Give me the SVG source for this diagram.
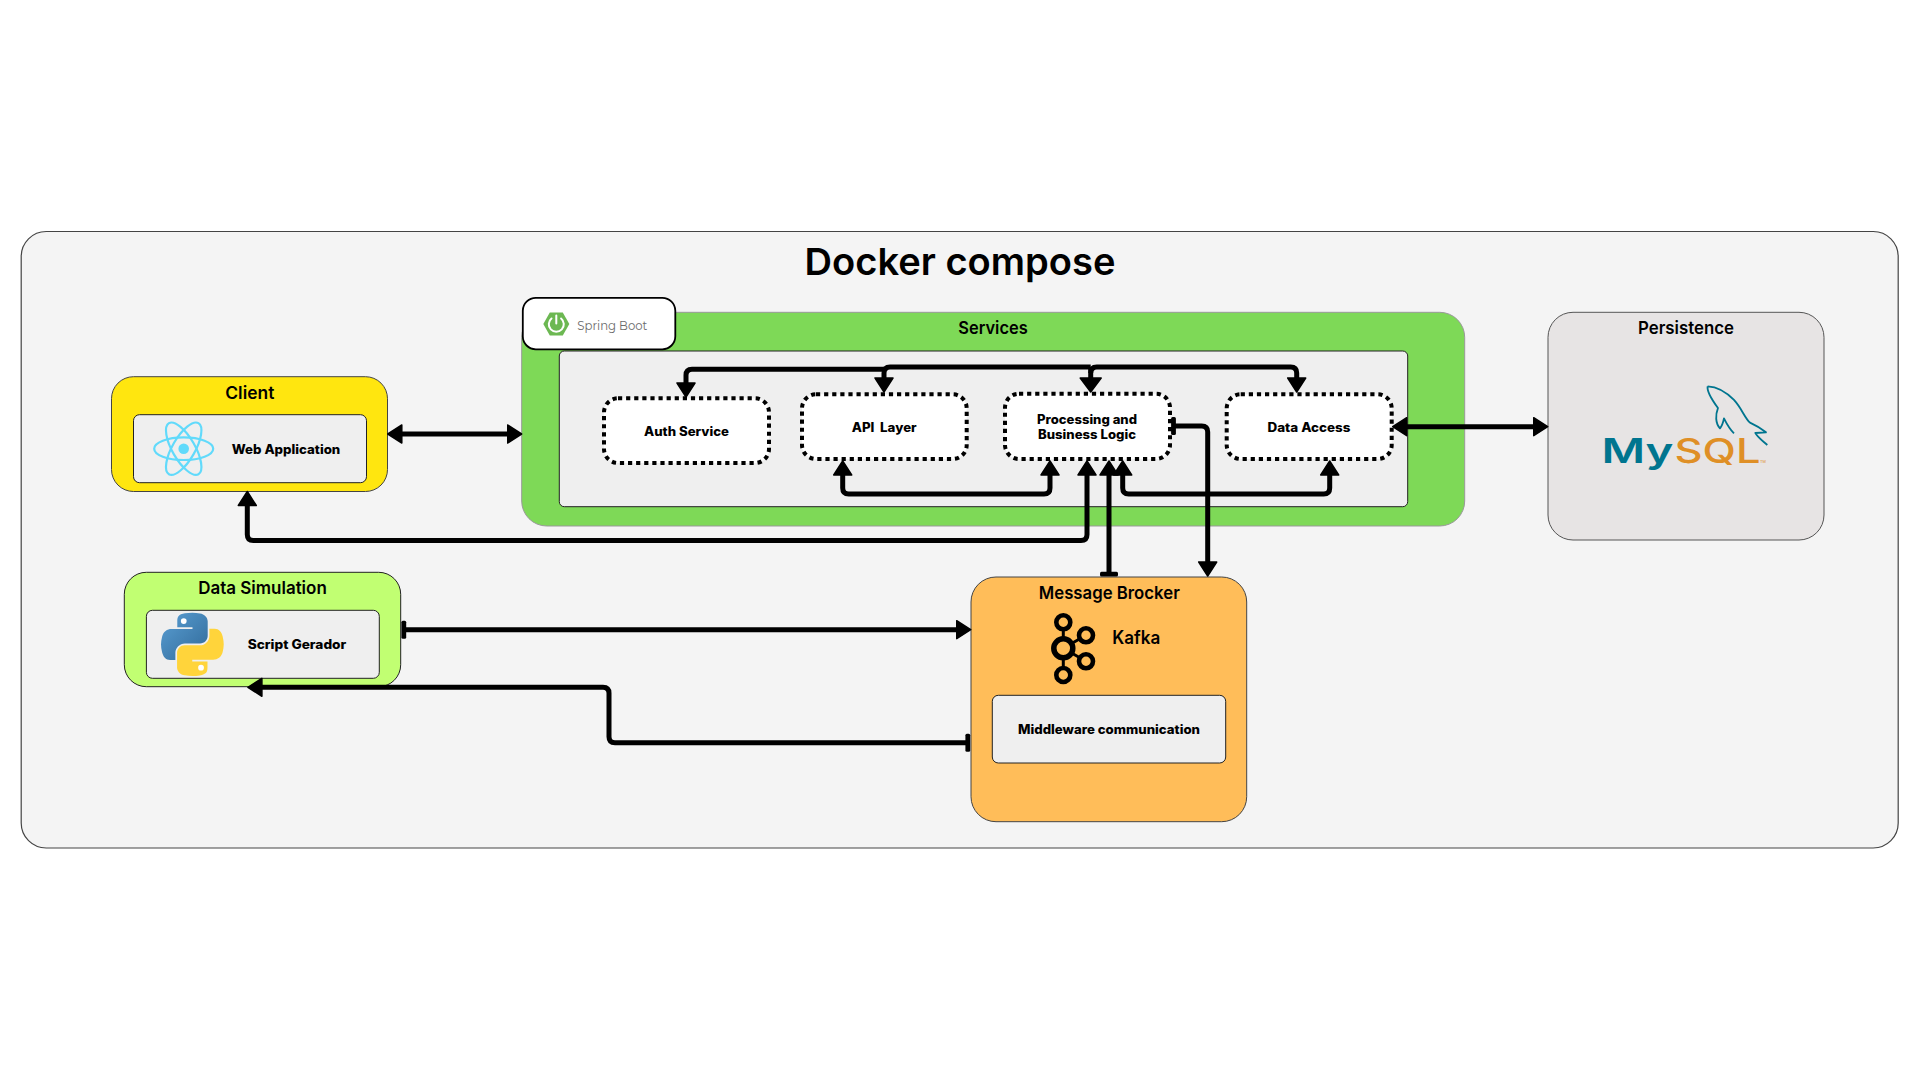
<svg xmlns="http://www.w3.org/2000/svg" width="1920" height="1080" viewBox="0 0 1920 1080">
<style>
.title{font-family:"Inter","Liberation Sans",sans-serif;font-weight:600;font-size:17.5px;fill:#000;text-anchor:middle}
.label{font-family:"Inter","Liberation Sans",sans-serif;font-weight:800;font-size:12.5px;fill:#000;text-anchor:middle;white-space:pre}
.inner{fill:#efefef;stroke:#222;stroke-width:1}
.dot{fill:#fff;stroke:#000;stroke-width:4;stroke-dasharray:4.2 3.9}
.conn{fill:none;stroke:#000;stroke-width:5;stroke-linejoin:round}
.arr{marker-end:url(#ah)}
.arrs{marker-start:url(#ah)}
.tee{marker-start:url(#tb)}
</style>
<defs>
<marker id="ah" markerUnits="userSpaceOnUse" viewBox="-1 -11 17 22" markerWidth="17" markerHeight="22" refX="6" refY="0" orient="auto-start-reverse"><polygon points="0,-9 14,0 0,9" fill="#000" stroke="#000" stroke-width="1.5" stroke-linejoin="round"/></marker>
<marker id="ahl" markerUnits="userSpaceOnUse" viewBox="-1 -12 17 24" markerWidth="17" markerHeight="24" refX="6" refY="0" orient="auto-start-reverse"><polygon points="0,-10.5 14,0 0,10.5" fill="#000" stroke="#000" stroke-width="1.5" stroke-linejoin="round"/></marker>
<marker id="tb" markerUnits="userSpaceOnUse" viewBox="-3 -10 6 20" markerWidth="6" markerHeight="20" refX="0" refY="0" orient="auto"><rect x="-2.2" y="-9" width="4.8" height="18" rx="1.5" fill="#000"/></marker>
<linearGradient id="pb" x1="0" y1="0" x2="1" y2="1"><stop offset="0" stop-color="#5A9FD4"/><stop offset="1" stop-color="#306998"/></linearGradient>
<path id="pysnake" d="M54.9 0c-4.6 0-9 .4-12.8 1.1C30.8 3.1 28.8 7.2 28.8 14.9v10.2h26.4v3.4H18.9c-7.7 0-14.4 4.6-16.5 13.4-2.4 10-2.5 16.3 0 26.8 1.9 7.8 6.3 13.4 14 13.4h9.1V69.7c0-8.7 7.5-16.3 16.5-16.3h26.4c7.3 0 13.2-6.1 13.2-13.4V14.9c0-7.1-6-12.5-13.2-13.7C64 .4 59.4 0 54.9 0z"/>
</defs>
<rect width="1920" height="1080" fill="#fff"/>
<g id="docker-compose">
<rect x="21.2" y="231.5" width="1877" height="616.5" rx="25" fill="#f4f4f4" stroke="#444" stroke-width="1.2"/>
<text x="960" y="275" font-family="Inter,'Liberation Sans',sans-serif" font-weight="600" font-size="37.5" text-anchor="middle" fill="#000" textLength="311" lengthAdjust="spacingAndGlyphs">Docker compose</text>
</g>
<g id="client">
<rect x="111.5" y="376.7" width="276" height="114.8" rx="22" fill="#FFE60F" stroke="#444" stroke-width="1"/>
<text class="title" x="249.8" y="399.3" textLength="49" lengthAdjust="spacingAndGlyphs">Client</text>
<rect class="inner" x="133.5" y="414.7" width="233" height="68" rx="6"/>
<g fill="none" stroke="#61DAFB" stroke-width="2.2"><ellipse cx="183.7" cy="448.7" rx="29.5" ry="11.3"/><ellipse cx="183.7" cy="448.7" rx="29.5" ry="11.3" transform="rotate(60 183.7 448.7)"/><ellipse cx="183.7" cy="448.7" rx="29.5" ry="11.3" transform="rotate(120 183.7 448.7)"/></g>
<circle cx="183.7" cy="448.7" r="5.3" fill="#61DAFB"/>
<text class="label" x="286" y="454" textLength="108.6" lengthAdjust="spacingAndGlyphs">Web Application</text>
</g>
<g id="services">
<rect x="521.7" y="312.3" width="943" height="213.7" rx="25" fill="#7ED957" stroke="#999" stroke-width="1"/>
<text class="title" x="993" y="334.3" textLength="69.4" lengthAdjust="spacingAndGlyphs">Services</text>
<rect x="559.3" y="351" width="848.4" height="155.7" rx="5" fill="#efefef" stroke="#222" stroke-width="1"/>
</g>
<g id="spring-boot">
<rect x="522.8" y="297.8" width="152.5" height="51.5" rx="13" fill="#fff" stroke="#000" stroke-width="1.8"/>
<polygon points="543.3,324 549.8,312.5 562.8,312.5 569.3,324 562.8,335.5 549.8,335.5" fill="#6CB852"/>
<path d="M551.5 318.5a7.5 7.5 0 1 0 9.6 0M556.3 315.5v8" fill="none" stroke="#fff" stroke-width="2" stroke-linecap="round"/>
<text x="577.3" y="330" font-family="Montserrat,'Noto Sans',sans-serif" font-size="13" fill="#6b6b6b" textLength="70" lengthAdjust="spacingAndGlyphs">Spring Boot</text>
</g>
<g id="auth-service">
<rect class="dot" x="604" y="398.3" width="165" height="64.7" rx="14"/>
<text class="label" x="686.5" y="436" textLength="85" lengthAdjust="spacingAndGlyphs">Auth Service</text>
</g>
<g id="api-layer">
<rect class="dot" x="802" y="394.3" width="164.7" height="64.7" rx="14"/>
<text class="label" x="884.2" y="432.3" textLength="65" lengthAdjust="spacingAndGlyphs">API  Layer</text>
</g>
<g id="processing">
<rect class="dot" x="1005" y="393.7" width="165" height="65.3" rx="14"/>
<text class="label" x="1087" y="424" textLength="100" lengthAdjust="spacingAndGlyphs">Processing and</text>
<text class="label" x="1087" y="439" textLength="98" lengthAdjust="spacingAndGlyphs">Business Logic</text>
</g>
<g id="data-access">
<rect class="dot" x="1226.7" y="394.3" width="165" height="64.7" rx="14"/>
<text class="label" x="1309" y="432" textLength="83" lengthAdjust="spacingAndGlyphs">Data Access</text>
</g>
<g id="persistence">
<rect x="1548" y="312.3" width="276" height="227.7" rx="25" fill="#E7E4E4" stroke="#555" stroke-width="1"/>
<text class="title" x="1686" y="334.3" textLength="96" lengthAdjust="spacingAndGlyphs">Persistence</text>
<g transform="translate(1480 280) scale(.3333)" fill="none" stroke="#00758F" stroke-width="5.5" stroke-linejoin="round">
<path d="M683 319C705 320 735 332 762 360C785 385 795 415 810 428C830 437 845 447 858 457L826 459C832 472 850 484 862 495M683 319C680 335 700 365 714 384C706 405 706 430 720 445C728 435 730 425 732 415C742 435 752 450 762 460"/>
</g>
<text y="462.7" font-family="Inter,'Liberation Sans',sans-serif" font-size="34.5"><tspan x="1601.5" fill="#00758F" font-weight="600" textLength="72" lengthAdjust="spacingAndGlyphs">My</tspan><tspan x="1674.5" fill="#DF8F26" font-weight="500" textLength="86" lengthAdjust="spacingAndGlyphs">SQL</tspan></text>
<text x="1760" y="462.5" font-family="'Liberation Sans',Arial,sans-serif" font-size="4" fill="#DF8F26">TM</text>
</g>
<g id="data-simulation">
<rect x="124.3" y="572.3" width="276.4" height="114.4" rx="22" fill="#C1FF72" stroke="#222" stroke-width="1"/>
<text class="title" x="262.5" y="594.3" textLength="128.6" lengthAdjust="spacingAndGlyphs">Data Simulation</text>
<rect class="inner" x="146.4" y="610.3" width="232.9" height="68" rx="6"/>
<g transform="translate(160.7 612.7) scale(.576)">
<use href="#pysnake" fill="url(#pb)"/>
<circle cx="40" cy="14.5" r="5" fill="#fff"/>
<use href="#pysnake" fill="#FFD43B" transform="rotate(180 55 55)"/>
<circle cx="70" cy="95.5" r="5" fill="#fff"/>
</g>
<text class="label" x="297" y="649" textLength="98.6" lengthAdjust="spacingAndGlyphs">Script Gerador</text>
</g>
<g id="message-broker">
<rect x="971" y="577" width="275.7" height="244.7" rx="25" fill="#FFBD59" stroke="#444" stroke-width="1"/>
<text class="title" x="1109.3" y="599" textLength="141" lengthAdjust="spacingAndGlyphs">Message Brocker</text>
<g fill="none" stroke="#000"><path d="M1063.3 629V676M1063.3 648.3L1086 635.3M1063.3 648.3L1086 661.3" stroke-width="3"/><g fill="#FFBD59" stroke-width="4.6"><circle cx="1063.3" cy="622.3" r="7"/><circle cx="1086" cy="635.3" r="7"/><circle cx="1086" cy="661.3" r="7"/><circle cx="1063.3" cy="675" r="7"/></g><circle cx="1063.3" cy="648.3" r="9.5" fill="#FFBD59" stroke-width="5.5"/></g>
<text x="1112.3" y="644" font-family="Inter,'Liberation Sans',sans-serif" font-weight="600" font-size="18" textLength="48" lengthAdjust="spacingAndGlyphs">Kafka</text>
<rect class="inner" x="992.3" y="695.3" width="233.4" height="67.7" rx="6"/>
<text class="label" x="1109" y="734" textLength="182" lengthAdjust="spacingAndGlyphs">Middleware communication</text>
</g>
<g id="connectors">
<path class="conn arr arrs" d="M395.8 434H513.6"/>
<path class="conn arr arrs" d="M247.3 499.5V534.5Q247.3 540.5 253.3 540.5H1081Q1087 540.5 1087 534.5V469"/>
<path class="conn arrs" d="M686 389V375.3Q686 369.3 692 369.3H884"/>
<path class="conn arr" d="M1090.7 367H890Q884 367 884 373V384"/>
<path class="conn" style="marker-end:url(#ahl)" d="M1090.7 367V384"/>
<path class="conn arr" d="M1090.7 373Q1090.7 367 1096.7 367H1290.7Q1296.7 367 1296.7 373V384"/>
<path class="conn arr arrs" d="M842.7 469V488Q842.7 494 848.7 494H1044Q1050 494 1050 488V469"/>
<path class="conn arr arrs" d="M1122.7 469V488Q1122.7 494 1128.7 494H1323.7Q1329.7 494 1329.7 488V469"/>
<path class="conn arrs" style="marker-end:url(#tb)" d="M1109 469V574"/>
<path class="conn tee arr" d="M1173.3 426H1201.7Q1207.7 426 1207.7 432V568"/>
<path class="conn arr arrs" d="M1400.7 426.7H1539.7"/>
<path class="conn tee arr" d="M403.6 629.7H962.7"/>
<path class="conn tee arr" d="M968 742.7H615Q609 742.7 609 736.7V693.3Q609 687.3 603 687.3H255.9"/>
</g>
</svg>
